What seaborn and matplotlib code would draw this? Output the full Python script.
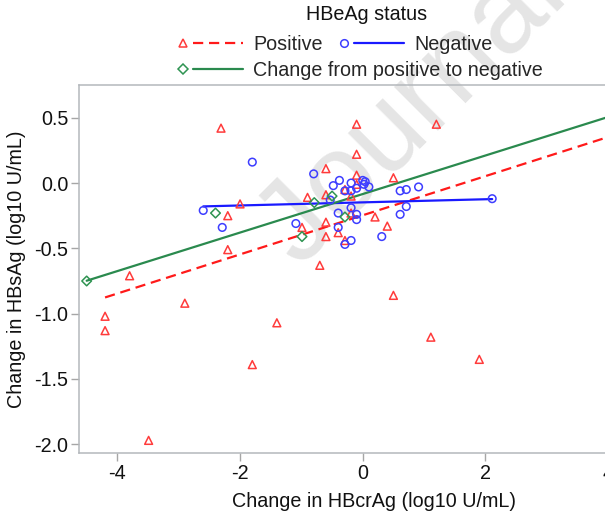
import matplotlib
matplotlib.use("Agg")
import matplotlib.pyplot as plt
import seaborn as sns
import pandas as pd
from matplotlib.lines import Line2D
from matplotlib.legend_handler import HandlerBase

# ---- data ----
pos_x = [-4.20, -4.20, -3.80, -3.49, -2.90, -2.31, -2.20, -2.20, -2.00, -1.80,
         -1.40, -0.99, -0.90, -0.70, -0.60, -0.60, -0.60, -0.60, -0.40, -0.29,
         -0.29, -0.19, -0.19, -0.10, -0.10, -0.10, -0.10, 0.20, 0.40, 0.50,
         0.50, 1.11, 1.20, 1.90]
pos_y = [-1.02, -1.13, -0.71, -1.97, -0.92, 0.42, -0.25, -0.51, -0.16, -1.39,
         -1.07, -0.34, -0.11, -0.63, 0.11, -0.09, -0.30, -0.41, -0.38, -0.05,
         -0.44, -0.10, -0.23, 0.45, 0.22, 0.06, -0.01, -0.26, -0.33, 0.04,
         -0.86, -1.18, 0.45, -1.35]

neg_x = [-2.60, -2.29, -1.80, -1.09, -0.80, -0.53, -0.48, -0.40, -0.40, -0.38,
         -0.29, -0.29, -0.19, -0.19, -0.19, -0.19, -0.10, -0.10, -0.10, 0.00,
         0.02, 0.04, 0.10, 0.31, 0.61, 0.61, 0.71, 0.71, 0.91, 2.11]
neg_y = [-0.21, -0.34, 0.16, -0.31, 0.07, -0.13, -0.02, -0.23, -0.34, 0.02,
         -0.06, -0.47, 0.00, -0.06, -0.19, -0.44, -0.04, -0.24, -0.28, 0.02,
         -0.01, 0.01, -0.03, -0.41, -0.06, -0.24, -0.05, -0.18, -0.03, -0.12]

chg_x = [-4.50, -2.40, -0.99, -0.79, -0.50, -0.29]
chg_y = [-0.75, -0.23, -0.41, -0.15, -0.10, -0.26]

# fitted lines (end points)
pos_fit_x = [-4.20, 5.00]
pos_fit_y = [-0.876, 0.502]
neg_fit_x = [-2.60, 2.11]
neg_fit_y = [-0.179, -0.123]
chg_fit_x = [-4.50, 5.00]
chg_fit_y = [-0.748, 0.653]

x_ticks = [-4, -2, 0, 2, 4]
y_ticks = [-2.0, -1.5, -1.0, -0.5, 0.0, 0.5]

legend_title = "HBeAg status"
labels = ["Positive", "Negative", "Change from positive to negative"]
x_label = "Change in HBcrAg (log10 U/mL)"
y_label = "Change in HBsAg (log10 U/mL)"

# ---- style ----
RED_LINE, RED_MK = "#ff1a1a", "#ff3b3b"
BLUE_LINE, BLUE_MK = "#1a1aff", "#3d3dff"
GREEN_LINE, GREEN_MK = "#2a8a4e", "#2f9452"
SPINE = "#b4b8bc"
FS = 14.2

sns.set_theme(style="white")
plt.rcParams["font.family"] = ["Liberation Sans", "DejaVu Sans"]
plt.rcParams["axes.unicode_minus"] = False

W, H = 605, 514
fig = plt.figure(figsize=(W / 100, H / 100), dpi=100)
ax_left, ax_right, ax_top, ax_bottom = 79.3, 669.0, 85.3, 453.3
ax = fig.add_axes([ax_left / W, 1 - ax_bottom / H,
                   (ax_right - ax_left) / W, (ax_bottom - ax_top) / H])

# watermark
ax.text(240 / W, 1 - 262 / H, "Journal Pre-proof", transform=fig.transFigure,
        fontsize=84, rotation=45, color="#e5e5e5", ha="left", va="baseline",
        zorder=0, clip_on=False)

pos_df = pd.DataFrame({"x": pos_x, "y": pos_y})
neg_df = pd.DataFrame({"x": neg_x, "y": neg_y})
chg_df = pd.DataFrame({"x": chg_x, "y": chg_y})

dash = (0, (4.6, 2.6))
sns.lineplot(x=pos_fit_x, y=pos_fit_y, color=RED_LINE, linewidth=1.6,
             linestyle=dash, ax=ax, sort=False, estimator=None, zorder=3)
sns.lineplot(x=neg_fit_x, y=neg_fit_y, color=BLUE_LINE, linewidth=1.6,
             ax=ax, sort=False, estimator=None, zorder=3)
sns.lineplot(x=chg_fit_x, y=chg_fit_y, color=GREEN_LINE, linewidth=1.6,
             ax=ax, sort=False, estimator=None, zorder=3)

sns.scatterplot(data=pos_df, x="x", y="y", marker="^", s=32, facecolors="none",
                edgecolor=RED_MK, linewidth=1.1, ax=ax, zorder=4)
sns.scatterplot(data=neg_df, x="x", y="y", marker="o", s=30, facecolors="none",
                edgecolor=BLUE_MK, linewidth=1.1, ax=ax, zorder=4)
sns.scatterplot(data=chg_df, x="x", y="y", marker="D", s=24, facecolors="none",
                edgecolor=GREEN_MK, linewidth=1.1, ax=ax, zorder=4)

x0 = -4.62
x1 = x0 + (ax_right - ax_left) / 61.35
ax.set_xlim(x0, x1)
ax.set_ylim(-2.069, 0.748)
ax.set_xticks(x_ticks)
ax.set_xticklabels([str(t) for t in x_ticks])
ax.set_yticks(y_ticks)
ax.set_yticklabels([f"{t:.1f}" for t in y_ticks])
ax.tick_params(axis="both", which="both", bottom=True, left=True, direction="out",
               length=6, width=1, color="#a6a6a6", labelsize=FS, pad=2,
               labelcolor="#111111")
for s in ax.spines.values():
    s.set_color(SPINE)
    s.set_linewidth(1.1)
ax.set_xlabel(x_label, fontsize=FS, color="#111111", labelpad=6)
ax.set_ylabel(y_label, fontsize=FS, color="#111111", labelpad=6)


class MarkerThenLine(HandlerBase):
    def create_artists(self, legend, orig_handle, xdescent, ydescent, width,
                       height, fontsize, trans):
        yc = height / 2 - ydescent
        xs = -xdescent
        ln = Line2D([xs + 0.22 * width, xs + width], [yc, yc])
        ln.update_from(orig_handle)
        ln.set_marker("None")
        ln.set_transform(trans)
        mk = Line2D([xs + 0.055 * width], [yc])
        mk.update_from(orig_handle)
        mk.set_linestyle("None")
        mk.set_transform(trans)
        return [ln, mk]


h_pos = Line2D([], [], color=RED_LINE, linestyle=dash, linewidth=1.6, marker="^",
               markersize=5.5, markerfacecolor="none", markeredgecolor=RED_MK,
               markeredgewidth=1.1)
h_neg = Line2D([], [], color=BLUE_LINE, linewidth=1.6, marker="o",
               markersize=5.5, markerfacecolor="none", markeredgecolor=BLUE_MK,
               markeredgewidth=1.1)
h_chg = Line2D([], [], color=GREEN_LINE, linewidth=1.6, marker="D",
               markersize=5, markerfacecolor="none", markeredgecolor=GREEN_MK,
               markeredgewidth=1.1)

common = dict(frameon=False, borderpad=0, borderaxespad=0, handlelength=3.25,
              handletextpad=0.5, columnspacing=0.9, fontsize=FS, loc="center left",
              bbox_transform=fig.transFigure,
              handler_map={Line2D: MarkerThenLine()})
leg1 = fig.legend(handles=[h_pos, h_neg], labels=labels[:2], ncol=2,
                  bbox_to_anchor=(179 / W, 1 - 44.3 / H), **common)
leg2 = fig.legend(handles=[h_chg], labels=labels[2:], ncol=1,
                  bbox_to_anchor=(179 / W, 1 - 70.7 / H), **common)
fig.text(367 / W, 1 - 15 / H, legend_title, ha="center", va="center",
         fontsize=FS, color="#111111")

fig.savefig("out.png", dpi=100)
